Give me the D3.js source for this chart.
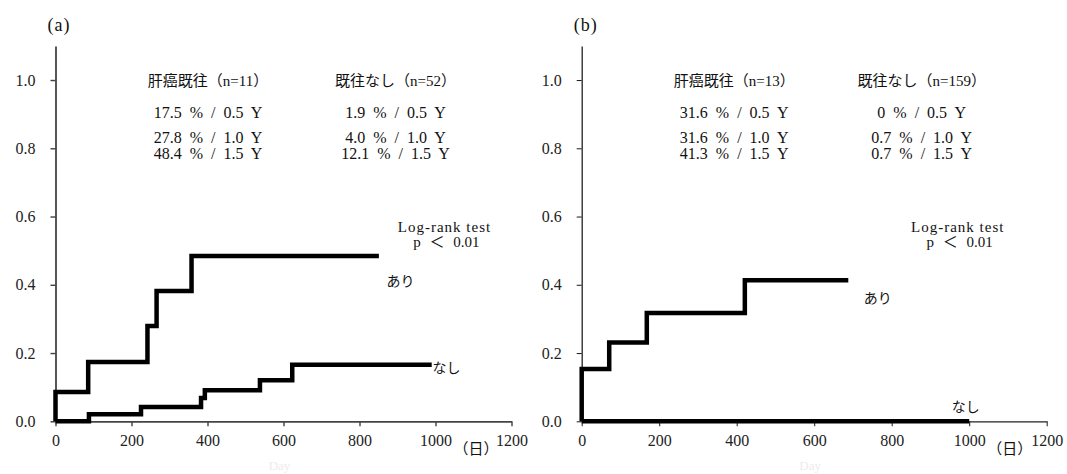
<!DOCTYPE html>
<html>
<head>
<meta charset="utf-8">
<script src="https://cdn.jsdelivr.net/npm/d3@7"></script>
<style>
  body { margin: 0; background: #fff; }
  text { white-space: pre; }
</style>
</head>
<body>
<script>
const dayTicks = [ 0, 200, 400, 600, 800, 1000, 1200 ]
const riskTicks = [ 0, 0.2, 0.4, 0.6, 0.8, 1.0 ]

// (a) cumulative incidence, steps
const aYesDays = [ 0, 86, 242, 266, 358 ]
const aYesRisk = [ 0.086, 0.174, 0.279, 0.382, 0.484 ]
const aYesEnd = 851
const aNoDays = [ 88, 225, 383, 393, 538, 623 ]
const aNoRisk = [ 0.021, 0.042, 0.068, 0.091, 0.12, 0.166 ]
const aNoEnd = 990

// (b)
const bYesDays = [ 0, 71, 168, 421 ]
const bYesRisk = [ 0.153, 0.231, 0.317, 0.413 ]
const bYesEnd = 688
const bNoDays = []
const bNoRisk = []
const bNoEnd = 1000

const aHeaders = [ '肝癌既往（n=11）', '既往なし（n=52）' ]
const aYesRates = [ '17.5 % / 0.5 Y', '27.8 % / 1.0 Y', '48.4 % / 1.5 Y' ]
const aNoRates = [ '1.9 % / 0.5 Y', '4.0 % / 1.0 Y', '12.1 % / 1.5 Y' ]
const bHeaders = [ '肝癌既往（n=13）', '既往なし（n=159）' ]
const bYesRates = [ '31.6 % / 0.5 Y', '31.6 % / 1.0 Y', '41.3 % / 1.5 Y' ]
const bNoRates = [ '0 % / 0.5 Y', '0.7 % / 1.0 Y', '0.7 % / 1.5 Y' ]

const groupNames = [ 'あり', 'なし' ]
const testLines = [ 'Log-rank test', 'p ＜ 0.01' ]

const width = 1067
const height = 474
const FONT = "'Liberation Serif', 'Noto Sans CJK JP', serif"
const CJK = "'Noto Sans CJK JP', sans-serif"

const svg = d3.select('body').append('svg')
  .attr('width', width)
  .attr('height', height)

const panels = [
  {
    tag: '(a)', left: 55.5, right: 511.5, axisColor: '#444', axisWidth: 1.8,
    yes: [ aYesDays, aYesRisk, aYesEnd ], no: [ aNoDays, aNoRisk, aNoEnd ],
    headers: aHeaders, yesRates: aYesRates, noRates: aNoRates,
    yesLabel: [ 331, 281 ], noLabel: [ 377, 368 ], testX: 389,
  },
  {
    tag: '(b)', left: 581.7, right: 1046.7, axisColor: '#222', axisWidth: 1.3,
    yes: [ bYesDays, bYesRisk, bYesEnd ], no: [ bNoDays, bNoRisk, bNoEnd ],
    headers: bHeaders, yesRates: bYesRates, noRates: bNoRates,
    yesLabel: [ 282, 298 ], noLabel: [ 370, 407 ], testX: 376,
  },
]

function text (g, x, y, str, size, opts) {
  opts = opts || {}
  return g.append('text')
    .attr('x', x)
    .attr('y', y)
    .attr('dy', '0.35em')
    .attr('text-anchor', opts.anchor || 'start')
    .attr('fill', opts.color || '#111')
    .style('font-family', opts.family || FONT)
    .style('font-size', size + 'px')
    .style('word-spacing', (opts.wordSpacing || 0) + 'px')
    .style('letter-spacing', (opts.letterSpacing || 0) + 'px')
    .text(str)
}

function stepPoints (days, risk, end) {
  const pts = [ [ 0, 0 ] ]
  days.forEach(function (d, i) { pts.push([ d, risk[i] ]) })
  pts.push([ end, pts[pts.length - 1][1] ])
  return pts
}

panels.forEach(function (p) {
  const x = d3.scaleLinear().domain([ 0, 1200 ]).range([ p.left, p.right ])
  const y = d3.scaleLinear().domain([ 0, 1.1 ]).range([ 421.3, 45.9 ])
  const g = svg.append('g')

  const xAxis = g.append('g')
    .attr('transform', 'translate(0,' + y(0) + ')')
    .call(d3.axisBottom(x).tickValues(dayTicks).tickFormat(d3.format('d')).tickSize(5).tickSizeOuter(0).tickPadding(8))

  const yAxis = g.append('g')
    .attr('transform', 'translate(' + x(0) + ',0)')
    .call(d3.axisLeft(y).tickValues(riskTicks).tickFormat(d3.format('.1f')).tickSize(5).tickSizeOuter(0).tickPadding(15))

  ;[ xAxis, yAxis ].forEach(function (ax) {
    ax.select('.domain').attr('stroke', p.axisColor).attr('stroke-width', p.axisWidth)
    ax.selectAll('.tick line').attr('stroke', p.axisColor).attr('stroke-width', p.axisWidth * 0.8)
    ax.selectAll('.tick text')
      .attr('fill', '#222')
      .style('font-family', FONT)
      .style('font-size', '16px')
  })

  const line = d3.line()
    .x(function (d) { return x(d[0]) })
    .y(function (d) { return y(d[1]) })
    .curve(d3.curveStepAfter)

  ;[ p.yes, p.no ].forEach(function (s) {
    g.append('path')
      .datum(stepPoints(s[0], s[1], s[2]))
      .attr('d', line)
      .attr('fill', 'none')
      .attr('stroke', '#000')
      .attr('stroke-width', 4.5)
      .attr('stroke-linejoin', 'miter')
  })

  // panel tag, stats block, labels
  text(g, p.left - 8, 25, p.tag, 18, { letterSpacing: 1 })

  const colL = p.left + 152.5
  const colR = p.left + 340
  text(g, colL, 81, p.headers[0], 15, { anchor: 'middle' })
  text(g, colR, 81, p.headers[1], 15, { anchor: 'middle' })
  const rowY = [ 112, 137, 153 ]
  p.yesRates.forEach(function (r, i) { text(g, colL, rowY[i], r, 16, { anchor: 'middle', wordSpacing: 4 }) })
  p.noRates.forEach(function (r, i) { text(g, colR, rowY[i], r, 16, { anchor: 'middle', wordSpacing: 4 }) })

  text(g, p.left + p.testX, 227, testLines[0], 15, { anchor: 'middle', letterSpacing: 1 })
  text(g, p.left + p.testX + 2, 242, testLines[1], 15, { anchor: 'middle', wordSpacing: 5 })

  text(g, p.left + p.yesLabel[0], p.yesLabel[1], groupNames[0], 14, { family: CJK })
  text(g, p.left + p.noLabel[0], p.noLabel[1], groupNames[1], 14, { family: CJK })

  text(g, x(1000) + 18, 449, '（日）', 15, { family: CJK })
  text(g, x(600) - 4, 465, 'Day', 13, { anchor: 'middle', color: '#ececec', family: "'Liberation Serif', serif" })
})
</script>
</body>
</html>
